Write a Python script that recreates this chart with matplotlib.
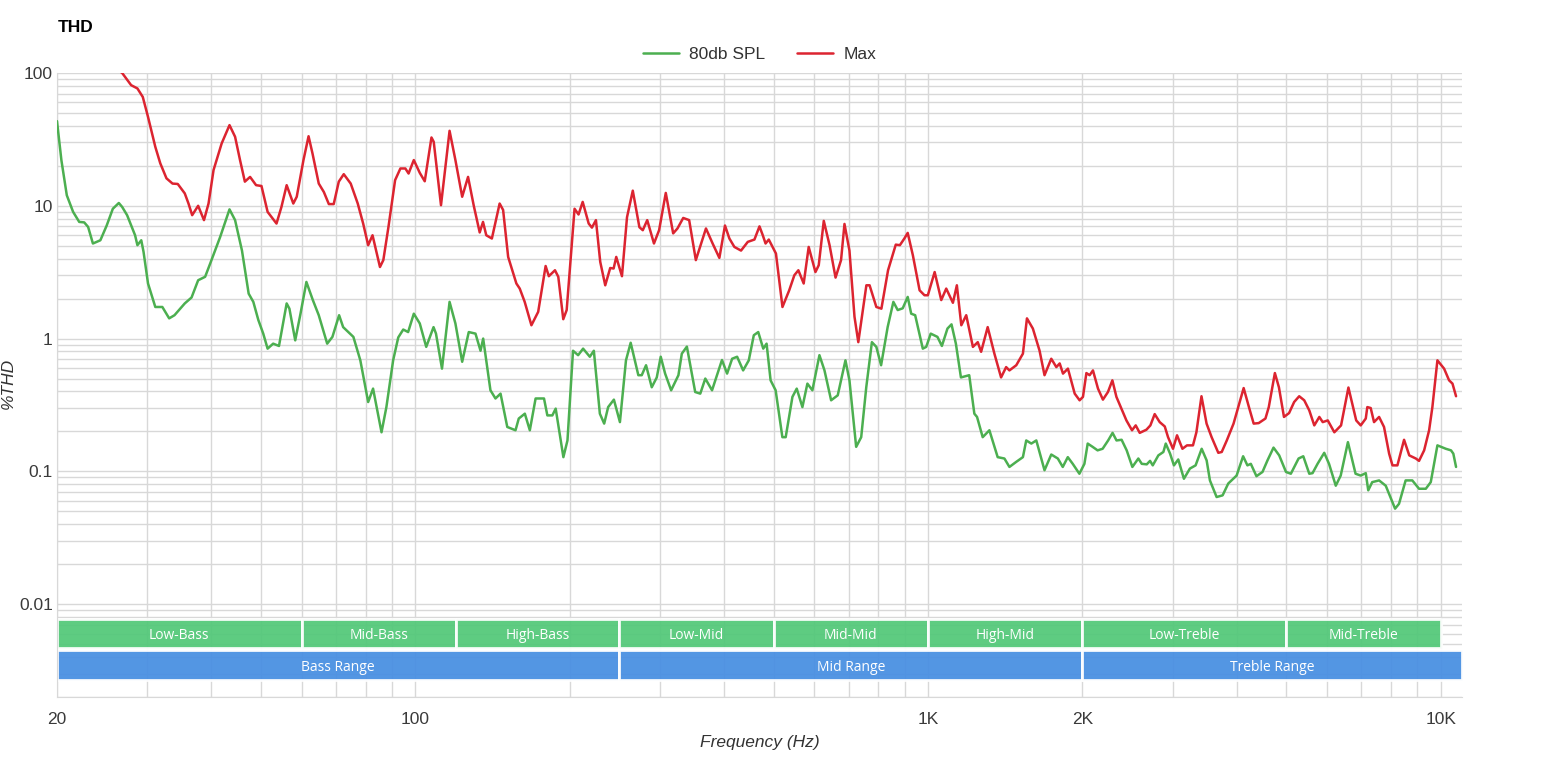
import numpy as np
import matplotlib
matplotlib.use("Agg")
import matplotlib.pyplot as plt
from matplotlib.ticker import LogLocator, NullFormatter, FixedLocator, FixedFormatter

# 80db SPL (green)
spl_hz = [
    20, 20.4, 20.9, 21.2, 21.5, 22.1, 22.6, 23.0, 23.5, 24.3,
    25.0, 25.7, 26.4, 26.8, 27.4, 28.0, 28.4, 28.7, 29.2, 29.5,
    30.1, 31.1, 32.1, 33.1, 33.9, 35.5, 36.6, 37.7, 38.9, 39.8,
    41.6, 43.4, 44.5, 45.9, 47.3, 48.3, 49.4, 50.5, 51.5, 52.8,
    54.2, 56.1, 56.8, 58.3, 59.7, 61.3, 63.1, 64.8, 67.3, 68.9,
    71.0, 72.3, 75.7, 78.1, 80.9, 82.7, 85.9, 87.8, 90.5, 92.6,
    94.7, 96.8, 99.3, 102, 105, 108.5, 109.7, 112.7, 116.6, 119.7,
    123.4, 127.1, 131, 134, 135.6, 140.1, 143.3, 146.6, 151.1, 156.8,
    159.1, 163.5, 167.2, 171.6, 178.2, 180.9, 185, 187.8, 194.4, 198,
    203, 207.7, 212.4, 218.9, 222.9, 229, 233.5, 237.7, 243.9, 250.6,
    257.5, 263, 272.2, 276.4, 281.8, 289.1, 295.7, 301, 307, 315.4,
    325.9, 330.9, 338.5, 351.4, 359.5, 367.7, 379, 396.3, 405.5, 414.8,
    424.2, 435.8, 447, 457.2, 466.4, 477, 484.2, 493, 504.3, 519.8,
    527.6, 543.8, 554.4, 568.7, 581.6, 594.8, 613.9, 628, 647, 666.5,
    690, 702.5, 724, 740.6, 757.6, 777, 792.7, 809.8, 834, 855.7,
    872.5, 892.3, 912.6, 927, 943.7, 976.6, 991.7, 1012, 1043, 1064,
    1091, 1111, 1133, 1159, 1203, 1231, 1246, 1278, 1317, 1367,
    1409, 1441, 1486, 1531, 1554, 1590, 1626, 1687, 1739, 1791,
    1831, 1873, 1915, 1973, 2018, 2048, 2094, 2141, 2190, 2245,
    2290, 2331, 2385, 2440, 2503, 2571, 2611, 2670, 2710, 2743,
    2813, 2877, 2908, 2965, 3017, 3076, 3155, 3241, 3325, 3417,
    3494, 3546, 3654, 3754, 3850, 3997, 4116, 4196, 4261, 4370,
    4490, 4592, 4718, 4840, 4990, 5100, 5280, 5393, 5540, 5622,
    5750, 5925, 6054, 6240, 6380, 6590, 6820, 6980, 7140, 7220,
    7350, 7580, 7810, 8145, 8290, 8540, 8800, 9070, 9350, 9560,
    9850, 10230, 10470, 10580, 10710,
]
spl_thd = [
    43.4, 22, 12, 10.4, 9.0, 7.56, 7.5, 6.93, 5.2, 5.5,
    7.1, 9.5, 10.5, 9.8, 8.5, 6.9, 6.0, 5.05, 5.5, 4.5,
    2.6, 1.73, 1.73, 1.42, 1.5, 1.84, 2.04, 2.75, 2.92, 3.68,
    5.8, 9.4, 7.8, 4.6, 2.18, 1.89, 1.38, 1.09, 0.84, 0.916,
    0.88, 1.84, 1.68, 0.97, 1.54, 2.67, 1.95, 1.5, 0.916, 1.03,
    1.5, 1.22, 1.03, 0.686, 0.333, 0.42, 0.197, 0.305, 0.686, 1.02,
    1.17, 1.12, 1.54, 1.3, 0.866, 1.22, 1.09, 0.594, 1.89, 1.3,
    0.669, 1.12, 1.09, 0.81, 1.0, 0.408, 0.354, 0.385, 0.216, 0.204,
    0.25, 0.272, 0.204, 0.354, 0.354, 0.264, 0.264, 0.297, 0.128, 0.171,
    0.81, 0.75, 0.84, 0.73, 0.81, 0.272, 0.229, 0.305, 0.347, 0.235,
    0.686, 0.93, 0.53, 0.53, 0.63, 0.43, 0.51, 0.73, 0.545, 0.408,
    0.53, 0.77, 0.87, 0.396, 0.385, 0.5, 0.408, 0.69, 0.545, 0.705,
    0.73, 0.576, 0.686, 1.06, 1.12, 0.84, 0.916, 0.485, 0.408, 0.181,
    0.181, 0.364, 0.42, 0.305, 0.458, 0.408, 0.75, 0.576, 0.343, 0.374,
    0.686, 0.485, 0.153, 0.181, 0.43, 0.94, 0.866, 0.63, 1.22, 1.89,
    1.64, 1.69, 2.06, 1.54, 1.5, 0.84, 0.866, 1.09, 1.03, 0.88,
    1.19, 1.28, 0.916, 0.51, 0.53, 0.272, 0.257, 0.181, 0.204, 0.128,
    0.125, 0.108, 0.118, 0.128, 0.171, 0.162, 0.171, 0.102, 0.134, 0.125,
    0.108, 0.128, 0.114, 0.096, 0.114, 0.162, 0.153, 0.144, 0.148, 0.171,
    0.195, 0.171, 0.173, 0.144, 0.108, 0.125, 0.114, 0.113, 0.12, 0.111,
    0.132, 0.14, 0.162, 0.136, 0.111, 0.123, 0.088, 0.105, 0.111, 0.148,
    0.121, 0.0855, 0.0641, 0.066, 0.081, 0.093, 0.13, 0.111, 0.114, 0.092,
    0.099, 0.121, 0.151, 0.132, 0.099, 0.096, 0.125, 0.13, 0.096, 0.097,
    0.114, 0.138, 0.114, 0.078, 0.093, 0.166, 0.096, 0.093, 0.097, 0.072,
    0.083, 0.0855, 0.078, 0.0524, 0.057, 0.0855, 0.0855, 0.074, 0.074, 0.083,
    0.157, 0.148, 0.144, 0.136, 0.108,
]

# Max (red)
max_hz = [
    25.5, 26.8, 27.9, 28.7, 29.4, 30.1, 31.1, 31.8, 32.7, 33.6,
    34.4, 35.5, 36.1, 36.7, 37.7, 38.7, 39.5, 40.4, 41.9, 43.4,
    44.5, 45.5, 46.5, 47.6, 48.9, 50.1, 51.5, 53.6, 54.8, 56.1,
    57.8, 58.7, 60.5, 61.9, 63.0, 64.8, 66.3, 67.8, 69.3, 70.9,
    72.5, 74.8, 77.2, 79.1, 80.9, 82.5, 85.3, 86.6, 88.6, 91.3,
    93.5, 95.6, 97.0, 99.3, 102, 104.3, 107.5, 108.6, 112.2, 116.6,
    119.7, 123.4, 126.7, 130, 133.5, 135.5, 137.5, 141, 146, 148.3,
    151.7, 157.4, 159.8, 163.4, 168.4, 173.6, 179.5, 182.1, 187.2, 190,
    194.3, 197.3, 204.4, 208.1, 212, 217.8, 221, 225, 229.4, 234.6,
    239.9, 243.6, 246.5, 252.9, 258.7, 265.5, 273.5, 277.7, 283.3, 292,
    298.8, 307.9, 318.3, 324.5, 333, 342, 352.4, 368.8, 380, 391.7,
    401.7, 409.7, 419, 431.7, 445, 458.5, 469, 476, 482, 489,
    505, 520, 536, 548.5, 558.5, 572, 585, 603, 612, 626,
    642.5, 660, 676.5, 687, 702.5, 718.6, 731, 758, 769, 792.7,
    810.9, 835.5, 865, 881, 899, 912.6, 934, 962.6, 984, 999,
    1030, 1061, 1085, 1118, 1138, 1161, 1187, 1223, 1250, 1269,
    1307, 1347, 1388, 1420, 1441, 1486, 1531, 1559, 1601, 1650,
    1687, 1739, 1779, 1806, 1833, 1874, 1932, 1975, 2005, 2036,
    2066, 2097, 2145, 2193, 2243, 2288, 2330, 2383, 2437, 2499,
    2541, 2587, 2666, 2714, 2767, 2830, 2895, 2938, 3004, 3059,
    3134, 3199, 3286, 3337, 3414, 3493, 3573, 3682, 3739, 3825,
    3943, 4126, 4233, 4316, 4414, 4550, 4619, 4747, 4834, 4945,
    5060, 5176, 5295, 5416, 5540, 5666, 5796, 5885, 6020, 6200,
    6390, 6605, 6840, 6980, 7140, 7190, 7300, 7410, 7580, 7750,
    7930, 8050, 8230, 8480, 8680, 8940, 9070, 9280, 9490, 9630,
    9850, 10150, 10380, 10540, 10710,
]
max_thd = [
    115, 100, 81, 76.5, 66, 46.7, 27.8, 20.9, 16.1, 14.7,
    14.6, 12.4, 10.4, 8.5, 10, 7.8, 10.4, 18.6, 29.5, 40.5,
    33.1, 22.1, 15.2, 16.5, 14.3, 14.1, 9.0, 7.35, 9.8, 14.3,
    10.4, 11.7, 22.1, 33.4, 24.8, 14.7, 12.7, 10.3, 10.3, 15.2,
    17.3, 14.7, 10.4, 7.35, 5.05, 6.0, 3.46, 3.9, 6.9, 15.6,
    19.1, 19.1, 17.5, 22.1, 17.7, 15.3, 32.7, 30.3, 10.1, 36.7,
    22.1, 11.7, 16.5, 10, 6.3, 7.56, 6.0, 5.67, 10.4, 9.3,
    4.12, 2.6, 2.38, 1.89, 1.26, 1.59, 3.52, 2.95, 3.27, 2.92,
    1.4, 1.64, 9.5, 8.6, 10.7, 7.35, 6.85, 7.8, 3.78, 2.52,
    3.4, 3.37, 4.12, 2.95, 8.2, 13.0, 6.9, 6.55, 7.8, 5.2,
    6.55, 12.5, 6.2, 6.75, 8.1, 7.8, 3.9, 6.75, 5.2, 4.05,
    7.1, 5.67, 4.9, 4.6, 5.35, 5.57, 7.0, 6.0, 5.2, 5.57,
    4.37, 1.73, 2.31, 3.0, 3.27, 2.6, 4.9, 3.17, 3.57, 7.7,
    5.05, 2.88, 3.9, 7.3, 4.6, 1.46, 0.94, 2.52, 2.52, 1.73,
    1.68, 3.27, 5.1, 5.05, 5.67, 6.25, 4.24, 2.31, 2.12, 2.12,
    3.17, 1.95, 2.38, 1.86, 2.52, 1.26, 1.5, 0.866, 0.94, 0.795,
    1.22, 0.77, 0.51, 0.61, 0.576, 0.63, 0.77, 1.42, 1.19, 0.81,
    0.53, 0.705, 0.61, 0.65, 0.545, 0.594, 0.385, 0.343, 0.364, 0.55,
    0.53, 0.576, 0.42, 0.347, 0.396, 0.485, 0.364, 0.297, 0.242, 0.204,
    0.222, 0.195, 0.206, 0.222, 0.27, 0.235, 0.218, 0.181, 0.148, 0.187,
    0.148, 0.157, 0.157, 0.197, 0.368, 0.229, 0.181, 0.138, 0.14, 0.171,
    0.229, 0.424, 0.297, 0.229, 0.231, 0.25, 0.305, 0.55, 0.43, 0.257,
    0.275, 0.333, 0.368, 0.343, 0.288, 0.222, 0.257, 0.235, 0.242, 0.197,
    0.222, 0.428, 0.242, 0.222, 0.25, 0.305, 0.3, 0.235, 0.257, 0.216,
    0.136, 0.111, 0.111, 0.173, 0.132, 0.125, 0.12, 0.144, 0.204, 0.305,
    0.686, 0.594, 0.485, 0.458, 0.368,
]

sub_bands = ["Low-Bass", "Mid-Bass", "High-Bass", "Low-Mid", "Mid-Mid",
             "High-Mid", "Low-Treble", "Mid-Treble"]
sub_edges = [20, 60, 120, 250, 500, 1000, 2000, 5000, 10000]
ranges = ["Bass Range", "Mid Range", "Treble Range"]
range_edges = [20, 250, 2000, 11000]

x_ticks = [20, 100, 1000, 2000, 10000]
x_labels = ["20", "100", "1K", "2K", "10K"]
y_ticks = [0.01, 0.1, 1, 10, 100]
y_labels = ["0.01", "0.1", "1", "10", "100"]

W, H = 1554, 773
fig = plt.figure(figsize=(W / 100, H / 100), dpi=100)
ax = fig.add_axes([57 / W, 1 - 697 / H, (1462 - 57) / W, (697 - 73) / H])

ax.set_xscale("log")
ax.set_yscale("log")
ax.set_xlim(20, 11000)
ax.set_ylim(0.002, 100)

grid_c = "#d8d8d8"
ax.xaxis.set_major_locator(FixedLocator(x_ticks))
ax.xaxis.set_major_formatter(FixedFormatter(x_labels))
ax.xaxis.set_minor_locator(LogLocator(base=10, subs=np.arange(2, 10), numticks=100))
ax.xaxis.set_minor_formatter(NullFormatter())
ax.yaxis.set_major_locator(FixedLocator(y_ticks))
ax.yaxis.set_major_formatter(FixedFormatter(y_labels))
ax.yaxis.set_minor_locator(LogLocator(base=10, subs=np.arange(2, 10), numticks=100))
ax.yaxis.set_minor_formatter(NullFormatter())
ax.grid(True, which="both", color=grid_c, lw=1)
ax.set_axisbelow(True)
ax.tick_params(which="both", length=0, labelsize=12.5, labelcolor="#3a3a3a")
ax.tick_params(axis="x", pad=11)
ax.tick_params(axis="y", pad=3)
for lab in ax.get_xticklabels() + ax.get_yticklabels():
    lab.set_fontfamily("Liberation Sans")
for s in ["top", "right"]:
    ax.spines[s].set_visible(False)
for s in ["left", "bottom"]:
    ax.spines[s].set_color(grid_c)

ax.plot(spl_hz, spl_thd, color="#4caf50", lw=1.8, label="80db SPL", zorder=3,
        solid_joinstyle="round", solid_capstyle="round")
ax.plot(max_hz, max_thd, color="#dc2430", lw=1.8, label="Max", zorder=3,
        solid_joinstyle="round", solid_capstyle="round")

# frequency bands along the bottom
tr = ax.get_xaxis_transform()
green_y0, green_y1 = (697 - 648) / 624, (697 - 619) / 624
blue_y0, blue_y1 = (697 - 680) / 624, (697 - 650) / 624
txt_shift = 0.004
for name, lo, hi in zip(sub_bands, sub_edges[:-1], sub_edges[1:]):
    ax.fill_between([lo, hi], green_y0, green_y1, transform=tr,
                    color="#52c878", alpha=0.93, ec="white", lw=2, zorder=2)
    ax.text(np.sqrt(lo * hi), (green_y0 + green_y1) / 2 - txt_shift, name,
            transform=tr, ha="center", va="center", color="white",
            fontsize=10, family="Open Sans", zorder=4)
for name, lo, hi in zip(ranges, range_edges[:-1], range_edges[1:]):
    ax.fill_between([lo, hi], blue_y0, blue_y1, transform=tr,
                    color="#4a90e2", alpha=0.95, ec="white", lw=2, zorder=2)
    ax.text(np.sqrt(lo * hi), (blue_y0 + blue_y1) / 2 - txt_shift, name,
            transform=tr, ha="center", va="center", color="white",
            fontsize=10, family="Open Sans", zorder=4)

fig.text(58 / W, 1 - 27 / H, "THD", ha="left", va="center",
         fontsize=12.5, fontweight="bold", family="Liberation Sans")
fig.text(759.5 / W, 1 - 742 / H, "Frequency (Hz)", ha="center", va="center",
         fontsize=12.5, style="italic", color="#333333", family="Liberation Sans")
fig.text(8 / W, 1 - 383 / H, "%THD", ha="center", va="center", rotation=90,
         fontsize=12.5, style="italic", color="#333333", family="Liberation Sans")

fig.legend(loc="center", bbox_to_anchor=(759.5 / W, 1 - 54 / H), ncol=2,
           frameon=False, prop={"family": "Liberation Sans", "size": 12.5},
           handlelength=2.1, handletextpad=0.6, columnspacing=1.8,
           labelcolor="#333333")

fig.savefig("out.png", dpi=100)
